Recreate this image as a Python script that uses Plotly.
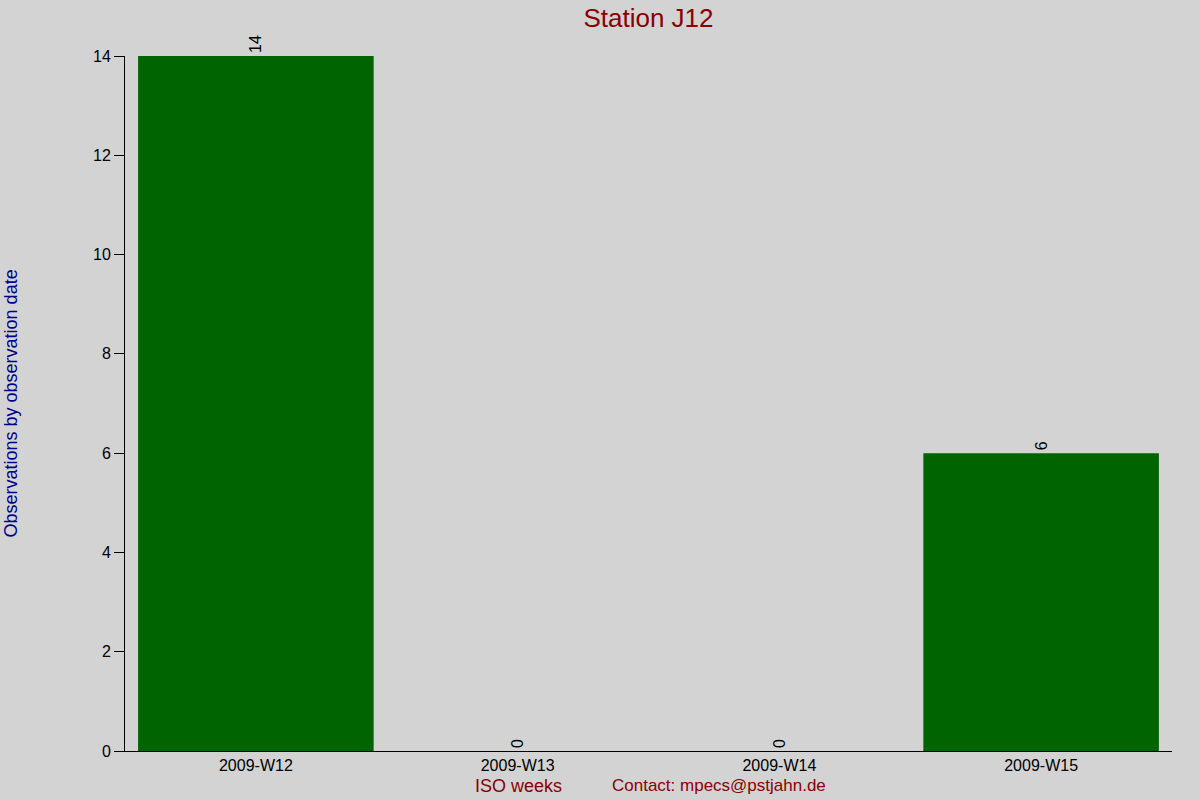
import plotly.graph_objects as go

weeks = ["2009-W12", "2009-W13", "2009-W14", "2009-W15"]
counts = [14, 0, 0, 6]
y_ticks = [0, 2, 4, 6, 8, 10, 12, 14]

bg = "#d3d3d3"
font = "Liberation Sans, Arial, sans-serif"

fig = go.Figure()
fig.add_trace(go.Bar(
    x=weeks, y=counts,
    width=0.9,
    marker=dict(color="#006400", line=dict(width=0)),
    text=[str(c) for c in counts],
    textposition="outside",
    textangle=-90,
    textfont=dict(family=font, size=16, color="black"),
    cliponaxis=False,
    showlegend=False,
))

fig.update_layout(
    width=1200, height=800,
    paper_bgcolor=bg, plot_bgcolor=bg,
    margin=dict(l=125, r=28, t=56, b=49),
    font=dict(family=font, size=16, color="black"),
    title=dict(text="Station J12", x=0.5, xref="paper", xanchor="center",
               y=0.978, yanchor="middle",
               font=dict(family=font, size=26, color="#8b0000")),
)

fig.update_xaxes(
    range=[-0.5, 3.5], showgrid=False, showline=True, linecolor="black",
    linewidth=1, ticks="", tickfont=dict(size=16),
)
fig.update_yaxes(
    range=[0, 14], tickvals=y_ticks, showgrid=False, zeroline=False,
    showline=True, linecolor="black", linewidth=1, ticks="outside",
    ticklen=10, tickcolor="black", tickfont=dict(size=16),
)

# axis titles placed in pixels relative to the plot area
fig.add_annotation(text="Observations by observation date", xref="paper", yref="paper",
                   x=-(125 - 10) / 1047, y=0.5, xanchor="center", yanchor="middle",
                   textangle=-90, showarrow=False,
                   font=dict(family=font, size=18, color="#00008b"))
fig.add_annotation(text="ISO weeks", xref="paper", yref="paper",
                   x=(518 - 125) / 1047, y=-35 / 695, xanchor="center", yanchor="middle",
                   showarrow=False, font=dict(family=font, size=18, color="#8b0000"))
fig.add_annotation(text="Contact: mpecs@pstjahn.de", xref="paper", yref="paper",
                   x=(719 - 125) / 1047, y=-35 / 695, xanchor="center", yanchor="middle",
                   showarrow=False, font=dict(family=font, size=17, color="#8b0000"))

fig.write_html("out.html", config={"displayModeBar": False},
               post_script="document.body.style.margin='0';document.body.style.background='#d3d3d3';")
